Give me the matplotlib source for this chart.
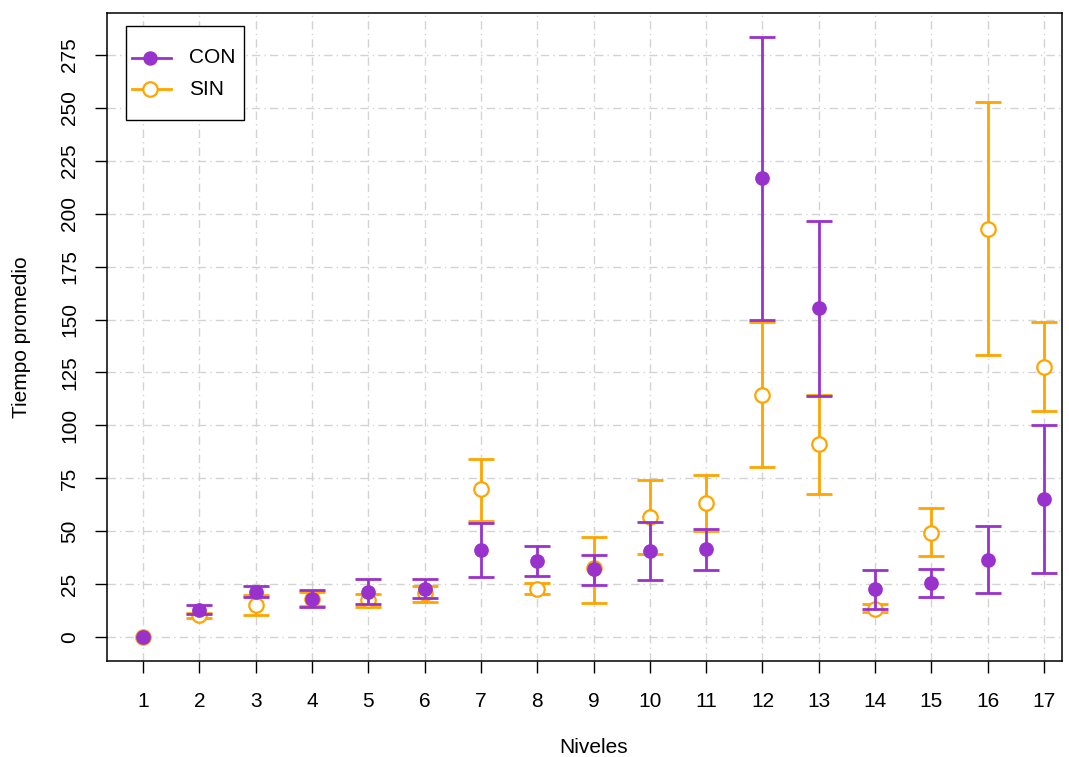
import numpy as np
import matplotlib
matplotlib.use("Agg")
import matplotlib.pyplot as plt
from matplotlib.patches import Rectangle

# ── datos ─────────────────────────────────────────────
niveles = list(range(1, 18))

con_media = [0, 12.8, 21.4, 17.8, 21.4, 22.5, 41.1, 36.1, 32.0, 40.6, 41.4,
             216.9, 155.5, 22.5, 25.7, 36.5, 65.1]
con_inf = [0, 10.9, 18.8, 14.0, 15.6, 18.3, 28.2, 28.8, 24.7, 26.9, 31.5,
           149.8, 113.9, 13.1, 18.8, 20.6, 30.1]
con_sup = [0, 15.1, 24.3, 22.2, 27.6, 27.3, 54.0, 43.0, 38.8, 54.3, 50.9,
           283.4, 196.6, 31.8, 32.1, 52.5, 100.0]

sin_media = [0, 10.2, 15.1, 18.0, 17.5, 21.0, 69.8, 22.7, 32.5, 56.7, 63.5,
             114.4, 91.2, 13.4, 49.3, 192.8, 127.6]
sin_inf = [0, 9.0, 10.4, 14.5, 14.3, 16.4, 55.0, 20.2, 16.3, 39.1, 50.2,
           80.3, 67.6, 11.7, 38.3, 133.3, 106.8]
sin_sup = [0, 11.5, 19.8, 21.5, 20.2, 24.3, 84.1, 25.4, 47.4, 74.0, 76.7,
           148.9, 114.4, 15.4, 60.8, 252.8, 148.9]

MORADO = "#9932CC"
NARANJA = "#FFA500"
GRIS = "#D3D3D3"

plt.rcParams["font.family"] = ["Liberation Sans", "DejaVu Sans"]

fig = plt.figure(figsize=(10.69, 7.57), dpi=100)
ax = fig.add_axes([0.1001, 0.1268, 0.8934, 0.8560])

x = np.array(niveles)

# grilla estilo R (dotdash)
for xi in x:
    ax.axvline(xi, color=GRIS, lw=1, dashes=(6, 3, 1, 3), zorder=0)
for yi in range(0, 276, 25):
    ax.axhline(yi, color=GRIS, lw=1, dashes=(6, 3, 1, 3), zorder=0)


def barras(media, inf, sup, color, z):
    media = np.array(media)
    inf = np.array(inf)
    sup = np.array(sup)
    m = sup > inf
    err = [media[m] - inf[m], sup[m] - media[m]]
    ax.errorbar(x[m], media[m], yerr=err, fmt="none", ecolor=color,
                elinewidth=2, capsize=9.2, capthick=2, zorder=z)


barras(sin_media, sin_inf, sin_sup, NARANJA, 2)
ax.plot(x, sin_media, "o", ls="none", ms=10.4, mfc="white", mec=NARANJA,
        mew=1.6, zorder=2.5)
barras(con_media, con_inf, con_sup, MORADO, 3)
ax.plot(x, con_media, "o", ls="none", ms=10.6, mfc=MORADO, mec="none",
        mew=0, zorder=3.5)

ax.set_xlim(0.36, 17.32)
ax.set_ylim(-11.3, 294.8)
ax.set_xticks(x)
ax.set_xticklabels([str(n) for n in niveles], fontsize=15)
ax.set_yticks(range(0, 276, 25))
ax.set_yticklabels([str(v) for v in range(0, 276, 25)], fontsize=15,
                   rotation=90, va="center")
ax.tick_params(axis="both", direction="out", length=8.6, width=1)
ax.tick_params(axis="x", pad=13.5)
ax.tick_params(axis="y", pad=11.5)
for s in ax.spines.values():
    s.set_linewidth(1.1)

ax.set_xlabel("Niveles", fontsize=15)
ax.xaxis.set_label_coords(0.509, -0.1327)
ax.xaxis.label.set_va("center")
ax.set_ylabel("Tiempo promedio", fontsize=15)
ax.yaxis.set_label_coords(-0.090, 0.5)
ax.yaxis.label.set_va("center")

# leyenda estilo R
T = ax.transAxes
ax.add_patch(Rectangle((0.0199, 0.835), 0.1236, 0.145, transform=T,
                       facecolor="white", edgecolor="black", lw=1,
                       zorder=10))
filas = [("CON", MORADO, MORADO, 0.931), ("SIN", NARANJA, "white", 0.882)]
for etiqueta, col, relleno, yy in filas:
    ax.plot([0.0262, 0.067], [yy, yy], color=col, lw=2, transform=T,
            zorder=11)
    ax.plot([0.045], [yy], "o", ms=10.4, mfc=relleno, mec=col,
            mew=1.6 if relleno == "white" else 0, transform=T, zorder=12)
    ax.text(0.0859, yy, etiqueta, fontsize=15, va="center", ha="left",
            transform=T, zorder=12)

fig.savefig("out.png", dpi=100)
